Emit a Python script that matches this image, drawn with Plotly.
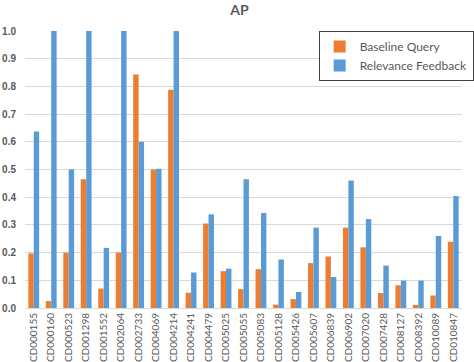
import plotly.graph_objects as go

categories = ["CD000155", "CD000160", "CD000523", "CD001298", "CD001552", "CD002064",
              "CD002733", "CD004069", "CD004214", "CD004241", "CD004479", "CD005025",
              "CD005055", "CD005083", "CD005128", "CD005426", "CD005607", "CD006839",
              "CD006902", "CD007020", "CD007428", "CD008127", "CD008392", "CD010089",
              "CD010847"]
baseline = [0.197, 0.025, 0.200, 0.465, 0.070, 0.200, 0.843, 0.500, 0.788, 0.055,
            0.305, 0.133, 0.068, 0.140, 0.012, 0.032, 0.162, 0.186, 0.290, 0.219,
            0.054, 0.082, 0.011, 0.045, 0.239]
feedback = [0.637, 1.000, 0.500, 1.000, 0.217, 1.000, 0.600, 0.503, 1.000, 0.128,
            0.338, 0.142, 0.465, 0.343, 0.175, 0.058, 0.290, 0.112, 0.460, 0.321,
            0.153, 0.099, 0.099, 0.260, 0.404]
yticks = [0.0, 0.1, 0.2, 0.3, 0.4, 0.5, 0.6, 0.7, 0.8, 0.9, 1.0]

fig = go.Figure()
fig.add_trace(go.Bar(x=categories, y=baseline, name="Baseline Query",
                     marker=dict(color="#ED7D31", line=dict(width=0))))
fig.add_trace(go.Bar(x=categories, y=feedback, name="Relevance Feedback",
                     marker=dict(color="#5B9BD5", line=dict(width=0))))

fig.update_layout(
    width=474, height=362,
    margin=dict(l=25, r=0, t=31, b=52),
    paper_bgcolor="white", plot_bgcolor="white",
    barmode="group", bargap=0.38, bargroupgap=0,
    font=dict(family="Lato, Liberation Sans, sans-serif", color="#595959"),
    title=dict(text="<b>AP</b>", x=0.505, xanchor="center", y=0.972, yanchor="middle",
               font=dict(size=14, color="#595959")),
    legend=dict(x=0.672, y=1.0, xanchor="left", yanchor="top",
                bordercolor="#404040", borderwidth=1, bgcolor="white",
                font=dict(size=12, color="#595959"),
                itemwidth=30, tracegroupgap=0),
    showlegend=True,
)
fig.update_xaxes(tickangle=-90, tickfont=dict(size=10, color="#595959"),
                 showline=True, linecolor="#D9D9D9", linewidth=1, ticks="",
                 showgrid=False)
fig.update_yaxes(range=[0, 1.0], tickvals=yticks, tickformat=".1f",
                 tickfont=dict(size=10, color="#595959", family="Liberation Sans, sans-serif",
                               weight="bold"),
                 showgrid=True, gridcolor="#D9D9D9", gridwidth=1, zeroline=False,
                 ticks="", ticklabelstandoff=8)

fig.write_html("out.html")
